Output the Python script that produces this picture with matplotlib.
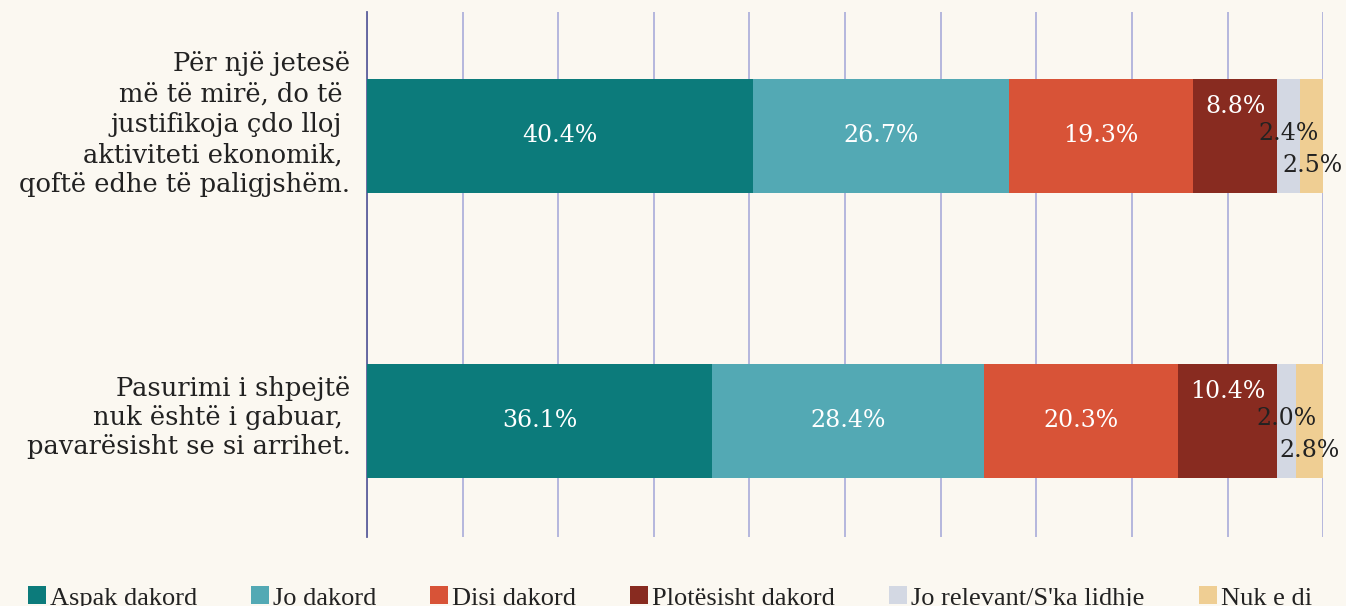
import matplotlib
matplotlib.use("Agg")
import matplotlib.pyplot as plt
import matplotlib.transforms as mtransforms
from matplotlib.patches import Patch

categories = [
    "Për një jetesë\nmë të mirë, do të \njustifikoja çdo lloj \naktiviteti ekonomik, \nqoftë edhe të paligjshëm.",
    "Pasurimi i shpejtë\nnuk është i gabuar, \npavarësisht se si arrihet.",
]
series_names = ["Aspak dakord", "Jo dakord", "Disi dakord", "Plotësisht dakord",
                "Jo relevant/S'ka lidhje", "Nuk e di"]
aspak = [40.4, 36.1]
jo_dakord = [26.7, 28.4]
disi = [19.3, 20.3]
plotesisht = [8.8, 10.4]
jo_relevant = [2.4, 2.0]
nuk_e_di = [2.5, 2.8]

colors = ["#0c7b7b", "#53a9b4", "#d85337", "#882b20", "#d3d8e3", "#efce93"]
label_colors = ["white", "white", "white", "white", "#222222", "#222222"]
# vertical offsets (points) for labels per series
label_dy = [0, 0, 0, 21, 2, -21]

bg = "#fbf8f1"
fig = plt.figure(figsize=(13.46, 6.06), dpi=100, facecolor=bg)
ax = fig.add_axes([0.2727, 0.1139, 0.7103, 0.8663], facecolor=bg)

series = [aspak, jo_dakord, disi, plotesisht, jo_relevant, nuk_e_di]
ypos = list(range(len(categories)))
left = [0.0] * len(categories)
for vals, name, c, lc, dy in zip(series, series_names, colors, label_colors, label_dy):
    ax.barh(ypos, vals, left=left, height=0.4, color=c, label=name, zorder=3)
    for y, v, l in zip(ypos, vals, left):
        ax.annotate(f"{v:.1f}%", (l + v / 2, y), xytext=(0, dy), textcoords="offset points",
                    ha="center", va="center", color=lc, fontsize=17,
                    family="DejaVu Serif", zorder=5)
    left = [a + b for a, b in zip(left, vals)]

ax.set_xlim(0, 100)
ax.set_ylim(1.407, -0.435)
ax.set_xticks(range(0, 101, 10))
ax.tick_params(axis="x", length=0, labelbottom=False)
ax.grid(axis="x", color="#a2a5d8", linewidth=1.1, zorder=0)
ax.set_yticks(ypos)
ax.set_yticklabels(categories, family="DejaVu Serif", fontsize=18.5, linespacing=1.2)
ax.tick_params(axis="y", length=0, pad=12, colors="#222222")
tl = ax.get_yticklabels()
tl[0].set_linespacing(1.27)
for lab, up in zip(tl, [0.17, 0.08]):
    lab.set_transform(lab.get_transform() +
                      mtransforms.ScaledTranslation(0, up, fig.dpi_scale_trans))
for s in ["top", "right", "bottom"]:
    ax.spines[s].set_visible(False)
ax.spines["left"].set_color("#5d609c")
ax.spines["left"].set_linewidth(1.3)

handles = [Patch(facecolor=c, label=n) for c, n in zip(colors, series_names)]
fig.legend(handles=handles, loc="lower left", bbox_to_anchor=(0.003, -0.045), ncol=6,
           frameon=False, prop={"family": "Liberation Serif", "size": 19},
           handlelength=0.68, handleheight=0.68, handletextpad=0.15, columnspacing=2.05,
           labelcolor="#222222")

fig.savefig("out.png", dpi=100, facecolor=bg)
